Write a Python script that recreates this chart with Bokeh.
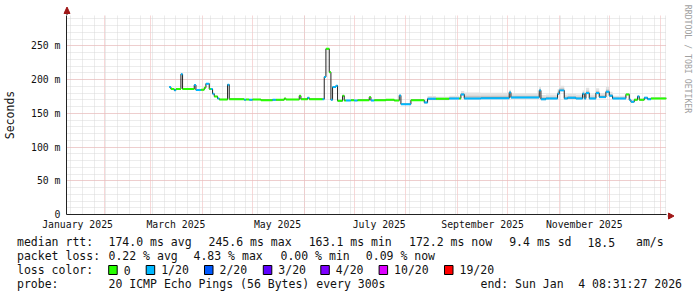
import numpy as np
import pandas as pd
from math import pi
from bokeh.plotting import figure
from bokeh.layouts import column, row
from bokeh.models import Range1d, FixedTicker, CustomJSTickFormatter, ColumnDataSource
from bokeh.core.properties import value
from bokeh.embed import file_html
from bokeh.resources import INLINE

# ---------------- data ----------------
graph_start = "2025-01-09 08:31:27"
graph_end = "2026-01-04 08:31:27"
y_max_ms = 295.0

# step segments of the median RTT (each holds until the next start)
seg_start = [
    "2025-03-12", "2025-03-13", "2025-03-15", "2025-03-16", "2025-03-19", "2025-03-20", "2025-03-27", "2025-03-28", "2025-03-31", "2025-04-02",
    "2025-04-03", "2025-04-05", "2025-04-06", "2025-04-07", "2025-04-08", "2025-04-10", "2025-04-11", "2025-04-16", "2025-04-17", "2025-04-26",
    "2025-04-27", "2025-04-29", "2025-05-01", "2025-05-06", "2025-05-13", "2025-05-15", "2025-05-20", "2025-05-21", "2025-05-29", "2025-05-30",
    "2025-06-03", "2025-06-04", "2025-06-12", "2025-06-13", "2025-06-14", "2025-06-16", "2025-06-17", "2025-06-18", "2025-06-20", "2025-06-21",
    "2025-06-24", "2025-06-25", "2025-06-26", "2025-06-29", "2025-07-01", "2025-07-03", "2025-07-10", "2025-07-11", "2025-07-13", "2025-07-20",
    "2025-07-25", "2025-07-28", "2025-07-29", "2025-08-04", "2025-08-12", "2025-08-14", "2025-08-19", "2025-08-27", "2025-09-02", "2025-09-03",
    "2025-09-05", "2025-09-15", "2025-10-02", "2025-10-03", "2025-10-20", "2025-10-21", "2025-10-24", "2025-10-31", "2025-11-01", "2025-11-04",
    "2025-11-06", "2025-11-11", "2025-11-15", "2025-11-16", "2025-11-17", "2025-11-19", "2025-11-23", "2025-11-25", "2025-11-29", "2025-12-01",
    "2025-12-03", "2025-12-11", "2025-12-13", "2025-12-14", "2025-12-16", "2025-12-18", "2025-12-19", "2025-12-22", "2025-12-24", "2025-12-26",
]
seg_median_ms = [
    189, 186, 184, 186, 208, 186, 192, 184.5, 185, 188,
    194, 186, 186, 179, 175, 172, 170.5, 192.5, 171, 170,
    170.5, 170, 170.5, 169.5, 170, 170, 172, 170.5, 176, 171,
    173, 171, 171, 204, 245.6, 211, 170, 189, 191, 168.5,
    176, 169, 169, 169.5, 169, 169.5, 174, 169, 169.5, 170,
    169, 176.5, 163.5, 169.5, 166, 171.5, 171.5, 172, 172, 178,
    172, 172.5, 181, 173.5, 184, 171, 172, 179, 184, 172,
    173, 172, 179, 172, 180, 172, 180, 174, 182, 176,
    172, 178, 170, 167, 170, 175, 170, 173, 171, 172,
]
# loss class index per segment (0 -> "0", 1 -> "1/20", ...)
seg_loss = [
    1, 0, 1, 0, 1, 0, 1, 1, 0, 0,
    1, 0, 1, 1, 0, 1, 0, 1, 0, 1,
    0, 1, 0, 0, 1, 0, 0, 0, 0, 0,
    1, 0, 1, 1, 0, 0, 1, 1, 1, 0,
    0, 0, 1, 0, 1, 0, 0, 1, 0, 0,
    0, 1, 1, 0, 1, 1, 0, 1, 0, 1,
    1, 1, 1, 1, 1, 1, 1, 1, 1, 1,
    1, 1, 1, 1, 1, 1, 1, 1, 1, 1,
    1, 0, 1, 1, 0, 1, 0, 1, 1, 0,
]
# smoke extent above / below the median (ms)
seg_smoke_hi = [
    1, 1, 1, 1, 1, 1, 1, 1, 1, 1,
    1, 1, 1, 1, 1, 1, 1, 1, 1, 1,
    1, 1, 1, 1, 1, 1, 1, 1, 1, 1,
    1, 1, 1, 1, 1, 1, 1, 1, 1, 1,
    1, 1, 1, 1, 1, 1, 1, 1, 1, 1,
    1, 1, 1, 1, 3, 4, 3, 4, 3, 5,
    9, 8, 4, 6, 5, 6, 6, 7, 7, 6,
    6, 6, 5, 6, 8, 6, 7, 6, 7, 6,
    4, 2, 2, 2, 2, 2, 2, 2, 2, 2,
]
seg_smoke_lo = [
    1, 1, 1, 1, 1, 1, 1, 1, 1, 1,
    1, 1, 1, 1, 1, 1, 1, 1, 1, 1,
    1, 1, 1, 1, 1, 1, 1, 1, 1, 1,
    1, 1, 1, 1, 1, 1, 1, 1, 1, 1,
    1, 1, 1, 1, 1, 1, 1, 1, 1, 1,
    1, 1, 1, 1, 2, 2, 2, 2, 2, 2,
    2, 2, 2, 2, 2, 2, 2, 2, 2, 2,
    2, 2, 2, 2, 2, 2, 2, 2, 2, 2,
    2, 1, 1, 1, 1, 1, 1, 1, 1, 1,
]

loss_labels = ["0", "1/20", "2/20", "3/20", "4/20", "10/20", "19/20"]
loss_colors = ["#26ff00", "#00b8ff", "#0059ff", "#5e00ff", "#7e00ff", "#dd00ff", "#ff0000"]

y_ticks = [0, 50, 100, 150, 200, 250]
month_label_days = ["2025-01-16", "2025-03-16", "2025-05-16", "2025-07-16", "2025-09-16", "2025-11-16"]

stats_line1 = [("median rtt:", 16.5), ("174.0 ms avg", 108), ("245.6 ms max", 208), ("163.1 ms min", 308.2),
               ("172.2 ms now", 408.5), ("9.4 ms sd", 508.7), ("18.5", 587), ("am/s", 635.5)]
stats_line2 = [("packet loss:", 16.5), ("0.22 % avg", 108), ("4.83 % max", 193), ("0.00 % min", 280),
               ("0.09 % now", 365.3)]
probe_label = "probe:"
probe_text = "20 ICMP Echo Pings (56 Bytes) every 300s"
end_text_a = "end: Sun Jan"
end_text_b = "4 08:31:27 2026"
credit_text = "RRDTOOL / TOBI OETIKER"

# ---------------- layout constants (canvas pixels) ----------------
FONT = "DejaVu Sans Mono"
W, H = 697, 297
FL, FT, FR, FB = 66, 15, 666, 215     # plot frame
MAIN_W = FR + 1                       # main figure spans x 0..667
MAIN_BOTTOM = 232                     # main figure spans y 15..232
TXT = "#111111"
ARROW = "#a01818"


def ms(ts):
    return pd.Timestamp(ts).value / 1e6


def blank(width, height, x0, x1, y_top, y_bottom):
    """decoration figure whose data coordinates are canvas pixels"""
    f = figure(width=width, height=height, x_range=Range1d(x0, x1), y_range=Range1d(y_bottom, y_top),
               x_axis_type=None, y_axis_type=None, output_backend="svg", toolbar_location=None,
               min_border=0, min_border_left=0, min_border_right=0, min_border_top=0, min_border_bottom=0)
    f.outline_line_color = None
    f.background_fill_color = "white"
    f.border_fill_color = "white"
    return f


# ---------------- main chart ----------------
t0 = pd.Timestamp(graph_start)
t1 = pd.Timestamp(graph_end)

p = figure(width=MAIN_W, height=MAIN_BOTTOM - FT, x_axis_type="datetime",
           x_range=Range1d(t0, t1), y_range=Range1d(0, y_max_ms),
           output_backend="svg", toolbar_location=None,
           min_border_left=FL, min_border_right=MAIN_W - FR,
           min_border_top=0, min_border_bottom=MAIN_BOTTOM - FB)
p.outline_line_color = None
p.background_fill_color = "white"
p.border_fill_color = "white"

month_starts = pd.date_range("2025-02-01", "2026-01-01", freq="MS")
weeks = pd.date_range("2025-01-12", "2026-01-04", freq="7D")
p.xgrid.ticker = FixedTicker(ticks=[ms(t) for t in month_starts], minor_ticks=[ms(t) for t in weeks])
p.ygrid.ticker = FixedTicker(ticks=[50, 100, 150, 200, 250], minor_ticks=list(range(10, 300, 10)))
for g in (p.xgrid, p.ygrid):
    g.grid_line_color = "#f0b0b0"
    g.grid_line_dash = "1 1"
    g.grid_line_width = 1
    g.minor_grid_line_color = "#d8d8d8"
    g.minor_grid_line_dash = "1 1"
    g.minor_grid_line_width = 1

p.xaxis.ticker = FixedTicker(ticks=[ms(t) for t in month_label_days])
p.xaxis.formatter = CustomJSTickFormatter(code="""
const names = ["January","February","March","April","May","June","July",
               "August","September","October","November","December"];
const d = new Date(tick);
return names[d.getUTCMonth()] + " " + d.getUTCFullYear();
""")
p.yaxis.ticker = FixedTicker(ticks=y_ticks)
p.yaxis.formatter = CustomJSTickFormatter(code="return tick == 0 ? '0' : tick.toFixed(0) + ' m';")
for ax in (p.xaxis, p.yaxis):
    ax.axis_line_color = "#222222"
    ax.axis_line_width = 1
    ax.major_tick_line_color = None
    ax.minor_tick_line_color = None
    ax.major_tick_out = 0
    ax.major_tick_in = 0
    ax.minor_tick_out = 0
    ax.minor_tick_in = 0
    ax.major_label_text_font = FONT
    ax.major_label_text_font_size = "9.8px"
    ax.major_label_text_color = TXT
p.xaxis.major_label_standoff = 4
p.yaxis.major_label_standoff = 6
p.yaxis.axis_label = "Seconds"
p.yaxis.axis_label_text_font = FONT
p.yaxis.axis_label_text_font_size = "11.5px"
p.yaxis.axis_label_text_font_style = "normal"
p.yaxis.axis_label_text_color = TXT
p.yaxis.axis_label_standoff = 11

starts = pd.to_datetime(seg_start)
ends = pd.DatetimeIndex(list(starts[1:]) + [t1])
med = np.array(seg_median_ms, dtype=float)
hi = np.array(seg_smoke_hi, dtype=float)
lo = np.array(seg_smoke_lo, dtype=float)
swidth = y_max_ms / (FB - FT)   # one pixel in ms

src = ColumnDataSource(dict(
    left=starts, right=ends, med=med,
    s_top=med + hi, s_bot=med - lo,
    i_top=med + hi * 0.45, i_bot=med - lo * 0.5,
    b_top=med + swidth, b_bot=med - swidth,
    color=[loss_colors[i] for i in seg_loss],
))
p.quad(left="left", right="right", top="s_top", bottom="s_bot", source=src,
       fill_color="#e2e2e2", line_color=None)
p.quad(left="left", right="right", top="i_top", bottom="i_bot", source=src,
       fill_color="#c4c4c4", line_color=None)
p.step(x=list(starts) + [t1], y=list(med) + [med[-1]], mode="after",
       line_color="#202020", line_width=1)
p.quad(left="left", right="right", top="b_top", bottom="b_bot", source=src,
       fill_color="color", line_color=None)

# ---------------- strip above the chart: y-axis arrow ----------------
top = blank(MAIN_W, FT, 0, MAIN_W, 0, FT)
top.segment(x0=[FL + 0.5], y0=[7.5], x1=[FL + 0.5], y1=[FT], line_color="#222222", line_width=1)
top.patch(x=[FL - 2.5, FL + 0.5, FL + 3.5], y=[13, 6.5, 13], fill_color=ARROW, line_color=ARROW, line_width=1)

# ---------------- strip right of the chart: x-axis arrow + credit ----------------
side = blank(W - MAIN_W, MAIN_BOTTOM, MAIN_W, W, 0, MAIN_BOTTOM)
side.segment(x0=[MAIN_W], y0=[FB + 0.5], x1=[669], y1=[FB + 0.5], line_color="#222222", line_width=1)
side.patch(x=[668, 673.5, 668], y=[FB - 2.5, FB + 0.5, FB + 3.5], fill_color=ARROW, line_color=ARROW, line_width=1)
side.text(x=[687.5], y=[58.5], text=[credit_text], angle=-pi / 2,
          text_font=value(FONT), text_font_size=value("8.2px"), text_color="#a0a0a0",
          text_align="center", text_baseline="middle")

# ---------------- legend block ----------------
leg = blank(W, H - MAIN_BOTTOM, 0, W, MAIN_BOTTOM, H)
row_y = [241.5, 255.5, 269.5, 283.5]
swatch_x = [108.2, 145.7, 204, 262.8, 320.3, 378.6, 444]

left_x, left_y, left_t = [], [], []
for txt, x in stats_line1:
    left_x.append(x); left_y.append(row_y[0]); left_t.append(txt)
for txt, x in stats_line2:
    left_x.append(x); left_y.append(row_y[1]); left_t.append(txt)
left_x.append(16.5); left_y.append(row_y[2]); left_t.append("loss color:")
for bx, lab in zip(swatch_x, loss_labels):
    left_x.append(bx + 15); left_y.append(row_y[2]); left_t.append(lab)
for txt, x in [(probe_label, 16.5), (probe_text, 108), (end_text_a, 480)]:
    left_x.append(x); left_y.append(row_y[3]); left_t.append(txt)

leg.text(x=left_x, y=left_y, text=left_t, text_font=value(FONT), text_font_size=value("11.5px"),
         text_color=TXT, text_align="left", text_baseline="middle")
leg.text(x=[681.5], y=[row_y[3]], text=[end_text_b], text_font=value(FONT), text_font_size=value("11.5px"),
         text_color=TXT, text_align="right", text_baseline="middle")
leg.quad(left=swatch_x, right=[b + 8.5 for b in swatch_x],
         top=[row_y[2] - 4.5] * len(swatch_x), bottom=[row_y[2] + 4.5] * len(swatch_x),
         fill_color=loss_colors, line_color="black", line_width=1)

# the top strip is wrapped in a row so that its frame is not aligned with the chart frame
layout = column(row(column(row(top), p), side), leg)
open("out.html", "w").write(file_html(layout, INLINE))
